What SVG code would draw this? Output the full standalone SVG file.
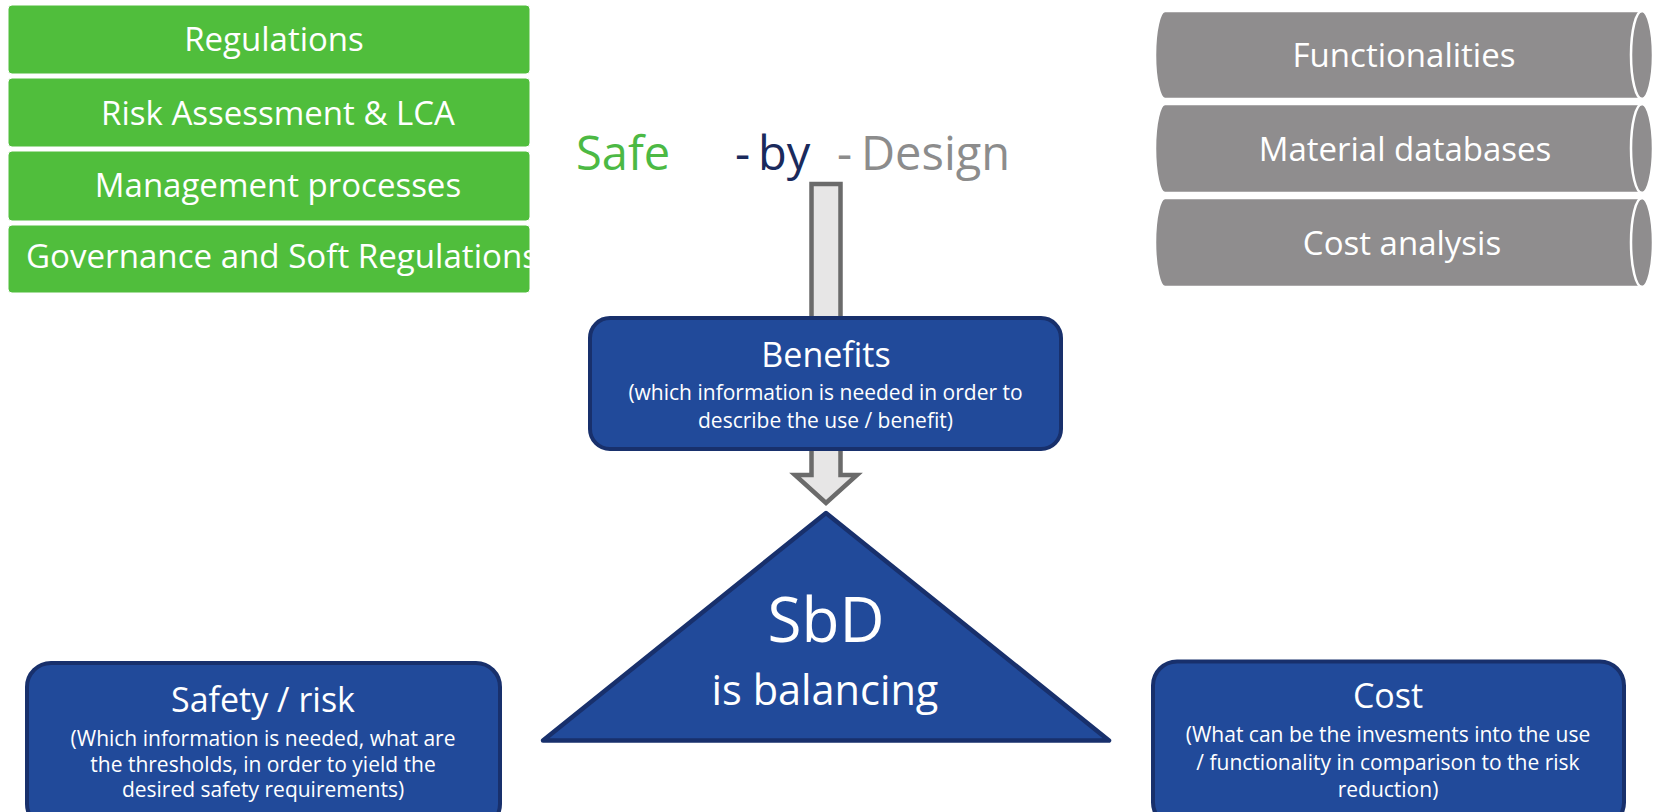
<svg xmlns="http://www.w3.org/2000/svg" width="1655" height="812" viewBox="0 0 1655 812">
<defs>
<style>
text{font-family:"Open Sans","Noto Sans","Liberation Sans",sans-serif;}
.gbox{fill:#50be3c;stroke:#ffffff;stroke-width:1;}
.gtxt{fill:#ffffff;font-size:33px;text-anchor:middle;}
.cyl{fill:#8f8d8e;stroke:#ffffff;stroke-width:2.5;}
.cylin{fill:none;stroke:#ffffff;stroke-width:2.5;}
.ctxt{fill:#ffffff;font-size:33px;text-anchor:middle;}
.bbox{fill:#214a9a;stroke:#18306c;stroke-width:4;}
.btitle{fill:#ffffff;font-size:34px;text-anchor:middle;}
.bsub{fill:#ffffff;font-size:21px;text-anchor:middle;}
</style>
</defs>
<rect width="1655" height="812" fill="#ffffff"/>

<g id="left-stack">
<g id="regulations"><rect class="gbox" x="8" y="5" width="522" height="69" rx="4"/><text class="gtxt" x="274" y="51">Regulations</text></g>
<g id="risk-assessment"><rect class="gbox" x="8" y="78" width="522" height="69" rx="4"/><text class="gtxt" x="278" y="125">Risk Assessment &amp; LCA</text></g>
<g id="management"><rect class="gbox" x="8" y="151" width="522" height="70" rx="4"/><text class="gtxt" x="278" y="197">Management processes</text></g>
<g id="governance"><rect class="gbox" x="8" y="225" width="522" height="68" rx="4"/><text class="gtxt" x="26" y="268" style="text-anchor:start" textLength="512" lengthAdjust="spacingAndGlyphs">Governance and Soft Regulations</text></g>
</g>

<g id="right-stack">
<g id="functionalities">
<path class="cyl" d="M1165,11 L1642,11 A11,44 0 0 1 1642,99 L1165,99 A10,44 0 0 1 1165,11 Z"/>
<path class="cylin" d="M1642,11 A11,44 0 0 0 1642,99"/>
<text class="ctxt" x="1404" y="67">Functionalities</text>
</g>
<g id="material-databases">
<path class="cyl" d="M1165,104 L1642,104 A11,44.5 0 0 1 1642,193 L1165,193 A10,44.5 0 0 1 1165,104 Z"/>
<path class="cylin" d="M1642,104 A11,44.5 0 0 0 1642,193"/>
<text class="ctxt" x="1405" y="161">Material databases</text>
</g>
<g id="cost-analysis">
<path class="cyl" d="M1165,198 L1642,198 A11,44.5 0 0 1 1642,287 L1165,287 A10,44.5 0 0 1 1165,198 Z"/>
<path class="cylin" d="M1642,198 A11,44.5 0 0 0 1642,287"/>
<text class="ctxt" x="1402" y="255">Cost analysis</text>
</g>
</g>

<g id="title">
<text y="170" style="font-size:47px">
<tspan x="576" fill="#4cb944">Safe</tspan><tspan x="735" fill="#1a2a5c">-</tspan><tspan x="758" fill="#1a2a5c">by</tspan><tspan x="837" fill="#8c8c8c">-</tspan><tspan x="861" fill="#8c8c8c">Design</tspan>
</text>
</g>

<g id="connectors">
<path d="M811.5,184 L840.5,184 L840.5,475 L857,475 L826,503 L795,475 L811.5,475 Z" fill="#e7e6e6" stroke="#6b6b6b" stroke-width="4.5" stroke-linejoin="miter"/>
</g>

<g id="benefits">
<rect class="bbox" x="590" y="318" width="471" height="131" rx="20"/>
<text class="btitle" x="826" y="367">Benefits</text>
<text class="bsub" x="825.5" y="400">(which information is needed in order to</text>
<text class="bsub" x="825.5" y="428">describe the use / benefit)</text>
</g>

<g id="sbd">
<path d="M826,513 L1109,740.5 L543,740.5 Z" fill="#214a9a" stroke="#18306c" stroke-width="4.5" stroke-linejoin="round"/>
<text x="826" y="642" fill="#ffffff" style="font-size:62px;text-anchor:middle">SbD</text>
<text x="825" y="705" fill="#ffffff" style="font-size:41.5px;text-anchor:middle">is balancing</text>
</g>

<g id="safety">
<rect class="bbox" x="27" y="663" width="473" height="165" rx="24"/>
<text class="btitle" x="263" y="712">Safety / risk</text>
<text class="bsub" x="263" y="746">(Which information is needed, what are</text>
<text class="bsub" x="263" y="772">the thresholds, in order to yield the</text>
<text class="bsub" x="263" y="797">desired safety requirements)</text>
</g>

<g id="cost">
<rect class="bbox" x="1153" y="661.5" width="471" height="165" rx="24"/>
<text class="btitle" x="1388" y="708">Cost</text>
<text class="bsub" x="1388" y="742">(What can be the invesments into the use</text>
<text class="bsub" x="1388" y="770">/ functionality in comparison to the risk</text>
<text class="bsub" x="1388" y="797">reduction)</text>
</g>
</svg>
